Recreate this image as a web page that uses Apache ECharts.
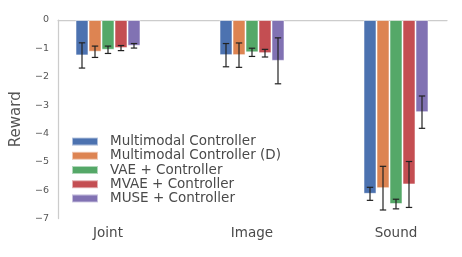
<!DOCTYPE html>
<html><head><meta charset="utf-8">
<script src="https://cdn.jsdelivr.net/npm/echarts@6/dist/echarts.min.js"></script>
<style>html,body{margin:0;padding:0;background:#fff}#c{width:462px;height:257px}</style>
</head><body><div id="c"></div>
<script>
const categories = ['Joint', 'Image', 'Sound'];
const methods = ['Multimodal Controller', 'Multimodal Controller (D)', 'VAE + Controller', 'MVAE + Controller', 'MUSE + Controller'];
const colors = ['#4C72B0', '#DD8452', '#55A868', '#C44E52', '#8172B3'];
const mcMean   = [-1.25, -1.24, -6.13];
const mcdMean  = [-1.12, -1.24, -5.93];
const vaeMean  = [-1.05, -1.14, -6.49];
const mvaeMean = [-0.99, -1.17, -5.80];
const museMean = [-0.91, -1.44, -3.25];
const mcErr   = [0.445, 0.41, 0.23];
const mcdErr  = [0.20, 0.43, 0.77];
const vaeErr  = [0.13, 0.145, 0.17];
const mvaeErr = [0.09, 0.135, 0.81];
const museErr = [0.08, 0.81, 0.57];
const yTicks = [0, -1, -2, -3, -4, -5, -6, -7];

const means = [mcMean, mcdMean, vaeMean, mvaeMean, museMean];
const errs = [mcErr, mcdErr, vaeErr, mvaeErr, museErr];
const BW = 13;

const chart = echarts.init(document.getElementById('c'));
const series = [];
methods.forEach((m, i) => {
  series.push({
    name: m, type: 'bar', xAxisIndex: 1, yAxisIndex: 1,
    barWidth: BW, barGap: '0%',
    itemStyle: { color: colors[i], borderColor: 'rgba(255,255,255,0.55)', borderWidth: 1 },
    data: means[i]
  });
});
methods.forEach((m, i) => {
  series.push({
    type: 'custom', xAxisIndex: 1, yAxisIndex: 1, z: 5, silent: true,
    data: means[i].map((v, k) => [k, v - errs[i][k], v + errs[i][k]]),
    renderItem: function (params, api) {
      const lo = api.coord([api.value(0), api.value(1)]);
      const hi = api.coord([api.value(0), api.value(2)]);
      const x = lo[0] + (i - 2) * BW;
      const cw = 3.2;
      const st = { stroke: '#222', lineWidth: 1.2 };
      return { type: 'group', children: [
        { type: 'line', shape: { x1: x, y1: lo[1], x2: x, y2: hi[1] }, style: st },
        { type: 'line', shape: { x1: x - cw, y1: lo[1], x2: x + cw, y2: lo[1] }, style: st },
        { type: 'line', shape: { x1: x - cw, y1: hi[1], x2: x + cw, y2: hi[1] }, style: st }
      ]};
    }
  });
});

chart.setOption({
  animation: false,
  textStyle: { fontFamily: 'DejaVu Sans' },
  grid: [
    { left: 58, right: 15, top: 20, bottom: 38.5, outerBoundsMode: 'none', containLabel: false },
    { left: 36, width: 432, top: 20, bottom: 38.5, outerBoundsMode: 'none', containLabel: false }
  ],
  legend: {
    orient: 'vertical', left: 71, top: 134.5, padding: 0, itemWidth: 26, itemHeight: 8, itemGap: 0,
    icon: 'rect',
    data: methods,
    textStyle: { fontSize: 13.5, color: '#4a4a4a', lineHeight: 14.2, padding: [0, 0, 0, 7] }
  },
  xAxis: [
    { type: 'category', gridIndex: 0, data: categories,
      axisLine: { show: true, lineStyle: { color: '#cccccc', width: 1.25 } },
      axisTick: { show: false }, axisLabel: { show: false }, splitLine: { show: false } },
    { type: 'category', gridIndex: 1, data: categories,
      axisLine: { show: false }, axisTick: { show: false }, splitLine: { show: false },
      axisLabel: { show: true, fontSize: 13.5, color: '#4a4a4a', margin: 8 } }
  ],
  yAxis: [
    { type: 'value', gridIndex: 0, min: -7, max: 0, interval: 1,
      name: 'Reward', nameLocation: 'middle', nameGap: 30, nameRotate: 90,
      nameTextStyle: { fontSize: 15, color: '#555', fontFamily: 'DejaVu Sans' },
      axisLine: { show: true, lineStyle: { color: '#cccccc', width: 1.25 } },
      axisTick: { show: false }, splitLine: { show: false },
      axisLabel: { fontSize: 9.5, color: '#555', margin: 9,
        formatter: v => (yTicks.indexOf(v) >= 0 ? String(v).replace('-', '\u2212') : '') } },
    { type: 'value', gridIndex: 1, min: -7, max: 0, interval: 1, show: false }
  ],
  series: series
});
</script></body></html>
